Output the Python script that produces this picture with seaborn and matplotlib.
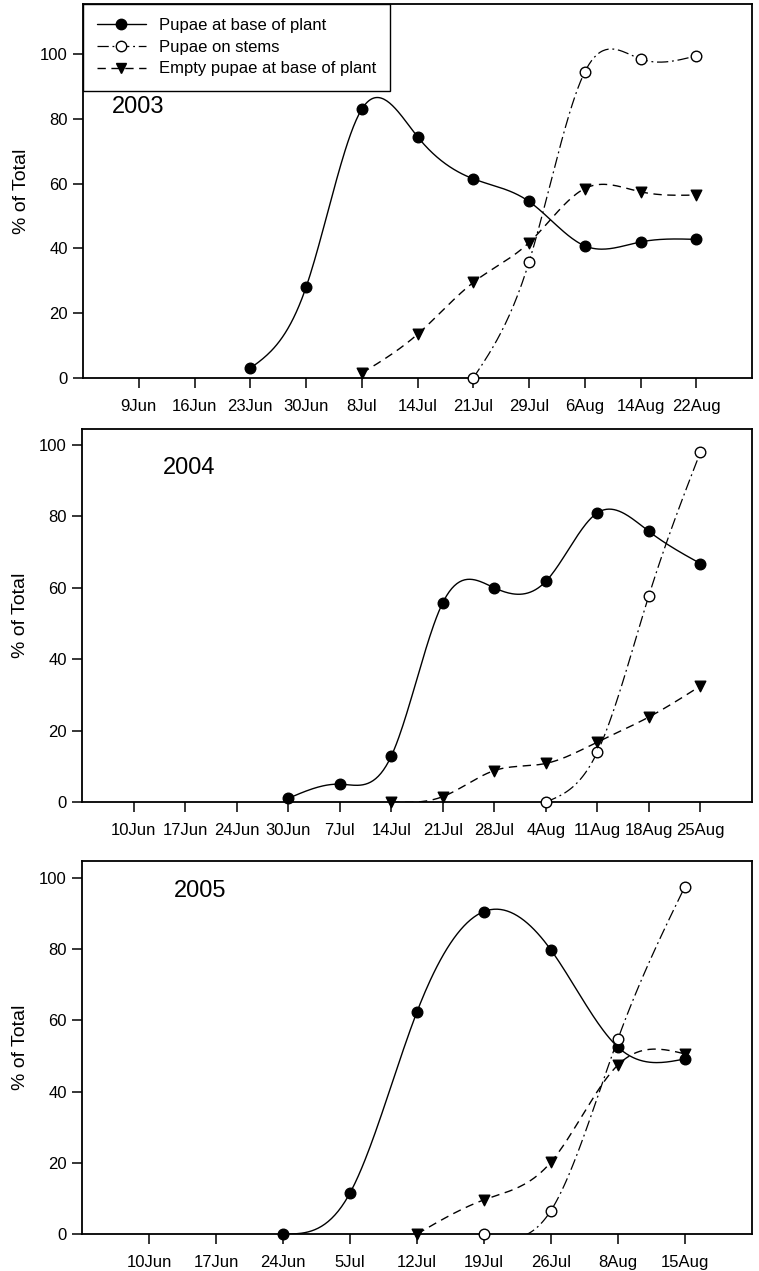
import numpy as np
import pandas as pd
import matplotlib

matplotlib.use("Agg")

import matplotlib.pyplot as plt
import seaborn as sns
from matplotlib.lines import Line2D

nan = np.nan

# 2003 sampling dates and % of total
dates_2003 = ["9Jun", "16Jun", "23Jun", "30Jun", "8Jul", "14Jul", "21Jul", "29Jul", "6Aug", "14Aug", "22Aug"]
base_2003 = [nan, nan, 3, 28, 83, 74.5, 61.5, 54.5, 40.8, 42, 42.8]
stems_2003 = [nan, nan, nan, nan, nan, nan, 0, 35.8, 94.5, 98.5, 99.5]
empty_2003 = [nan, nan, nan, nan, 1.5, 13.5, 29.5, 41.8, 58.5, 57.5, 56.5]

# 2004
dates_2004 = ["10Jun", "17Jun", "24Jun", "30Jun", "7Jul", "14Jul", "21Jul", "28Jul", "4Aug", "11Aug", "18Aug", "25Aug"]
base_2004 = [nan, nan, nan, 1, 5, 12.8, 55.8, 60, 61.8, 81, 75.8, 66.8]
stems_2004 = [nan, nan, nan, nan, nan, nan, nan, nan, 0, 14, 57.8, 98]
empty_2004 = [nan, nan, nan, nan, nan, 0, 1.5, 8.8, 10.8, 16.8, 23.8, 32.5]

# 2005
dates_2005 = ["10Jun", "17Jun", "24Jun", "5Jul", "12Jul", "19Jul", "26Jul", "8Aug", "15Aug"]
base_2005 = [nan, nan, 0, 11.5, 62.4, 90.6, 79.8, 52.5, 49.2]
stems_2005 = [nan, nan, nan, nan, nan, 0, 6.6, 54.8, 97.6]
empty_2005 = [nan, nan, nan, nan, 0, 9.6, 20.2, 47.5, 50.6]

years = ["2003", "2004", "2005"]
series_labels = ["Pupae at base of plant", "Pupae on stems", "Empty pupae at base of plant"]


def natural_spline(xs, ys, per=40):
    """Smooth line through the read points (natural cubic spline, like SigmaPlot)."""
    xs = np.asarray(xs, float)
    ys = np.asarray(ys, float)
    n = len(xs)
    if n < 3:
        return xs, ys
    h = np.diff(xs)
    A = np.zeros((n, n))
    rhs = np.zeros(n)
    A[0, 0] = 1
    A[-1, -1] = 1
    for i in range(1, n - 1):
        A[i, i - 1] = h[i - 1]
        A[i, i] = 2 * (h[i - 1] + h[i])
        A[i, i + 1] = h[i]
        rhs[i] = 6 * ((ys[i + 1] - ys[i]) / h[i] - (ys[i] - ys[i - 1]) / h[i - 1])
    M = np.linalg.solve(A, rhs)
    out_x, out_y = [], []
    for i in range(n - 1):
        x0, x1, hi = xs[i], xs[i + 1], h[i]
        t = np.linspace(x0, x1, per, endpoint=False)
        s = (M[i] * (x1 - t) ** 3 / (6 * hi) + M[i + 1] * (t - x0) ** 3 / (6 * hi)
             + (ys[i] / hi - M[i] * hi / 6) * (x1 - t) + (ys[i + 1] / hi - M[i + 1] * hi / 6) * (t - x0))
        out_x.append(t)
        out_y.append(s)
    out_x.append([xs[-1]])
    out_y.append([ys[-1]])
    return np.concatenate(out_x), np.concatenate(out_y)


sns.set_theme(style="ticks")
plt.rcParams["font.family"] = ["Liberation Sans", "DejaVu Sans"]
plt.rcParams["axes.linewidth"] = 1.3
plt.rcParams["axes.edgecolor"] = "black"
plt.rcParams["text.color"] = "black"
plt.rcParams["axes.labelcolor"] = "black"

styles = [
    dict(ls="-", marker="o", face="black", lw=1.0),
    dict(ls=(0, (9, 3, 1.5, 3)), marker="o", face="white", lw=0.9),
    dict(ls=(0, (6, 4)), marker="v", face="black", lw=1.0),
]

panels = [
    (dates_2003, [base_2003, stems_2003, empty_2003], 115.5, [0.1094, 0.7026, 0.8814, 0.2943], (0.043, 0.724)),
    (dates_2004, [base_2004, stems_2004, empty_2004], 104.5, [0.108, 0.369, 0.8827, 0.2935], (0.121, 0.895)),
    (dates_2005, [base_2005, stems_2005, empty_2005], 104.8, [0.108, 0.0291, 0.8827, 0.2935], (0.137, 0.92)),
]

fig = plt.figure(figsize=(7.59, 12.71), dpi=100)

for year, (dates, values, ytop, rect, txt) in zip(years, panels):
    ax = fig.add_axes(rect)
    pos = np.arange(1, len(dates) + 1)
    for vals, st in zip(values, styles):
        df = pd.DataFrame({"x": pos, "y": vals}).dropna()
        cx, cy = natural_spline(df["x"], df["y"])
        curve = pd.DataFrame({"x": cx, "y": cy})
        sns.lineplot(data=curve, x="x", y="y", ax=ax, color="black", lw=st["lw"],
                     linestyle=st["ls"], estimator=None, sort=False, zorder=2)
        sns.scatterplot(data=df, x="x", y="y", ax=ax, marker=st["marker"], s=58,
                        color=st["face"], edgecolor="black", linewidth=1.0,
                        clip_on=False, zorder=3)

    ax.set_xlim(0, len(dates) + 1)
    ax.set_ylim(0, ytop)
    ax.set_xticks(pos)
    ax.set_xticklabels(dates)
    ax.set_yticks(range(0, 101, 20))
    ax.tick_params(axis="both", direction="out", length=7, width=1.1, colors="black", labelsize=12)
    ax.tick_params(axis="x", pad=8)
    ax.tick_params(axis="y", pad=4)
    ax.set_xlabel("")
    ax.set_ylabel("% of Total", fontsize=14, labelpad=7, color="black")
    for sp in ax.spines.values():
        sp.set_visible(True)
        sp.set_color("black")
        sp.set_linewidth(1.3)
    ax.text(txt[0], txt[1], year, transform=ax.transAxes, fontsize=17, ha="left", va="center",
            color="black")

    if year == "2003":
        handles = [
            Line2D([], [], color="black", lw=st["lw"], linestyle=st["ls"], marker=st["marker"],
                   markersize=7.5, markerfacecolor=st["face"], markeredgecolor="black")
            for st in styles
        ]
        leg = ax.legend(handles, series_labels, loc="upper left", bbox_to_anchor=(0, 1),
                        borderaxespad=0, fontsize=12, frameon=True, fancybox=False,
                        framealpha=1, edgecolor="black", handlelength=2.9,
                        handletextpad=0.8, labelspacing=0.4, borderpad=0.85)
        leg.get_frame().set_linewidth(1.0)
        for t in leg.get_texts():
            t.set_color("black")

fig.savefig("out.png", dpi=100)
